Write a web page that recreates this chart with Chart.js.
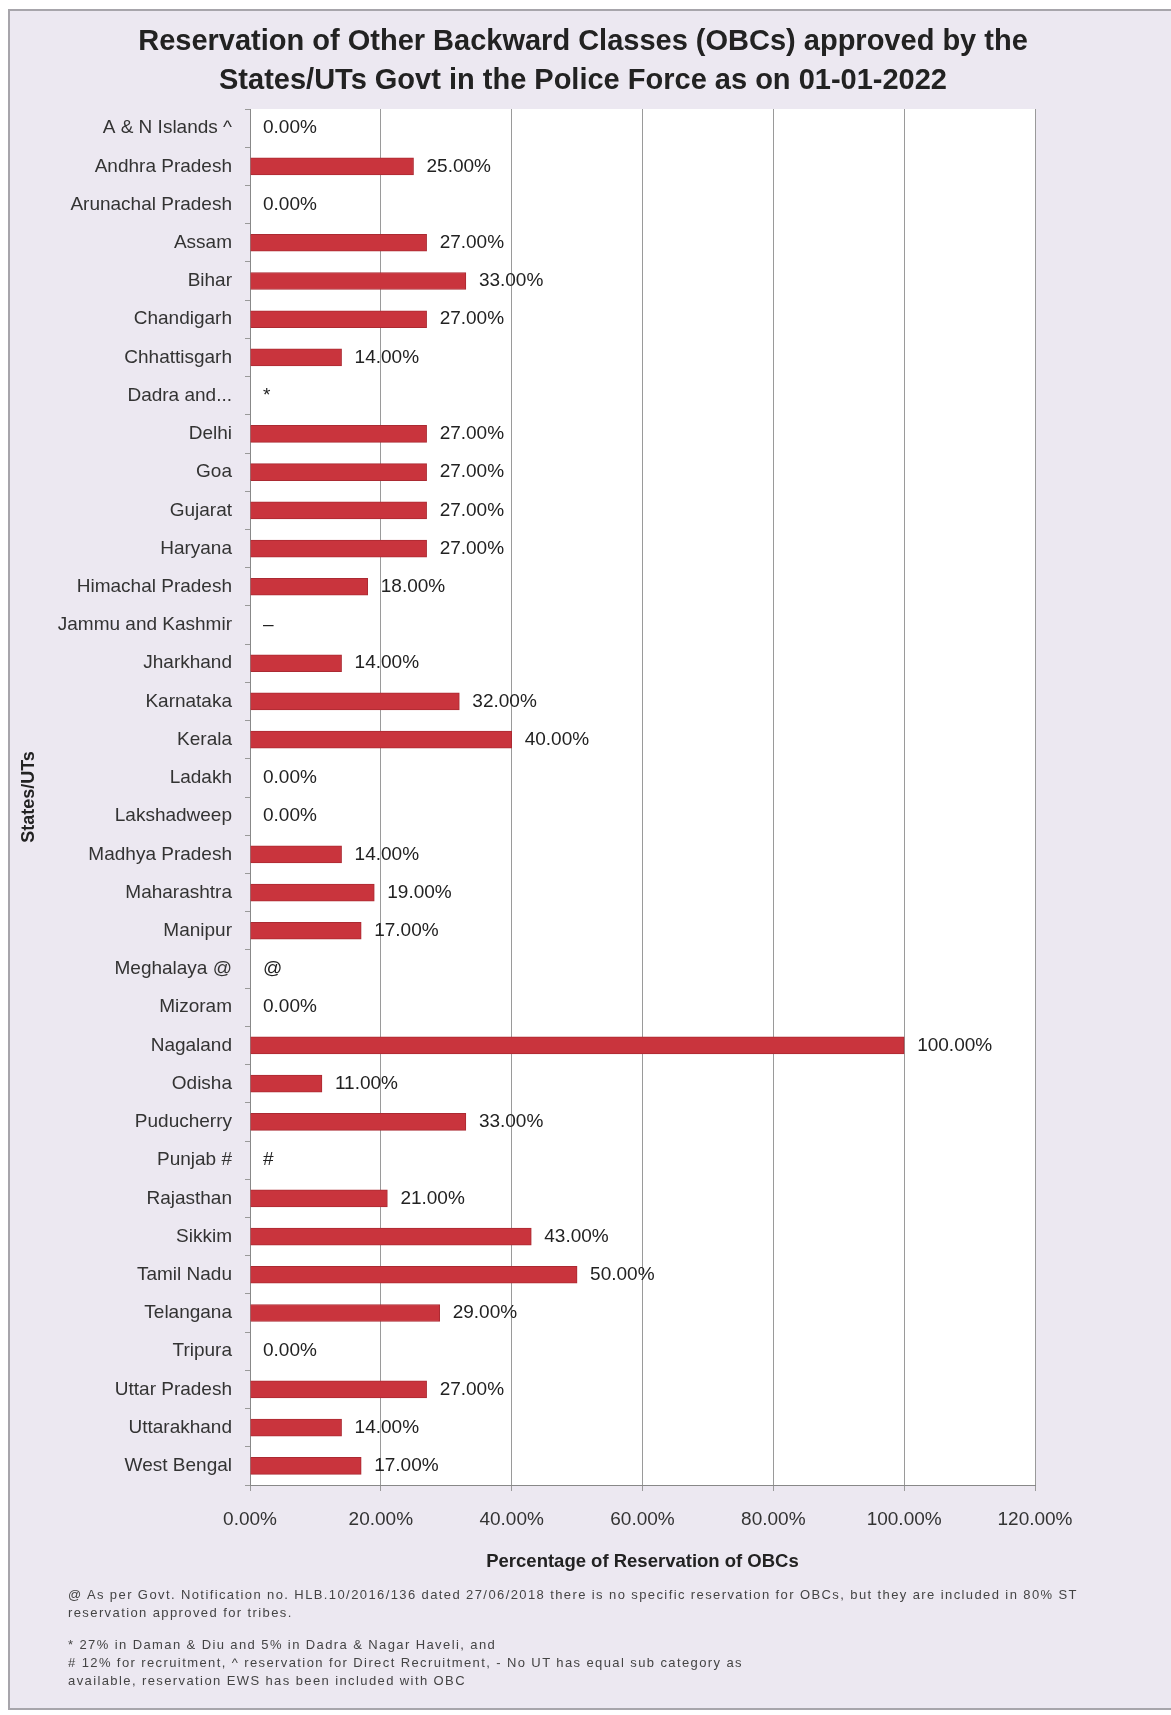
<!DOCTYPE html>
<html>
<head>
<meta charset="utf-8">
<script src="https://cdn.jsdelivr.net/npm/chart.js@4.4.1/dist/chart.umd.min.js"></script>
<style>
  body { margin: 0; background: #fff; overflow: hidden; }
  #frame {
    position: absolute; left: 8px; top: 9px; width: 1161px; height: 1697px;
    background: #ece8f1;
    border-top: 2px solid #a7a5ab; border-left: 2px solid #a7a5ab; border-bottom: 2px solid #a7a5ab;
  }
  #myChart { position: absolute; left: 0; top: 0; }
  #notes {
    position: absolute; left: 68px; top: 1586px; width: 1090px;
    font: 13px "Liberation Sans", Arial, sans-serif; color: #444; line-height: 18px;
    letter-spacing: 1.4px;
  }
  #notes p { margin: 0 0 14px 0; white-space: nowrap; }
</style>
</head>
<body>
<div id="frame"></div>
<canvas id="myChart" width="1171" height="1715"></canvas>
<div id="notes">
  <p>@ As per Govt. Notification no. HLB.10/2016/136 dated 27/06/2018 there is no specific reservation for OBCs, but they are included in 80% ST<br>
  reservation approved for tribes.</p>
  <p>* 27% in Daman &amp; Diu and 5% in Dadra &amp; Nagar Haveli, and<br>
  # 12% for recruitment, ^ reservation for Direct Recruitment, - No UT has equal sub category as<br>
  available, reservation EWS has been included with OBC</p>
</div>
<script>
const states = ['A & N Islands ^', 'Andhra Pradesh', 'Arunachal Pradesh', 'Assam', 'Bihar', 'Chandigarh',
  'Chhattisgarh', 'Dadra and...', 'Delhi', 'Goa', 'Gujarat', 'Haryana', 'Himachal Pradesh',
  'Jammu and Kashmir', 'Jharkhand', 'Karnataka', 'Kerala', 'Ladakh', 'Lakshadweep', 'Madhya Pradesh',
  'Maharashtra', 'Manipur', 'Meghalaya @', 'Mizoram', 'Nagaland', 'Odisha', 'Puducherry', 'Punjab #',
  'Rajasthan', 'Sikkim', 'Tamil Nadu', 'Telangana', 'Tripura', 'Uttar Pradesh', 'Uttarakhand', 'West Bengal'];

const reservation = [0, 25, 0, 27, 33, 27,
  14, null, 27, 27, 27, 27, 18,
  null, 14, 32, 40, 0, 0, 14,
  19, 17, null, 0, 100, 11, 33, null,
  21, 43, 50, 29, 0, 27, 14, 17];

// marks shown instead of a value where no figure is given
const marks = ['', '', '', '', '', '',
  '', '*', '', '', '', '', '',
  '–', '', '', '', '', '', '',
  '', '', '@', '', '', '', '', '#',
  '', '', '', '', '', '', '', ''];

const xTicks = [0, 20, 40, 60, 80, 100, 120];

const titleLines = ['Reservation of Other Backward Classes (OBCs) approved by the',
  'States/UTs Govt in the Police Force as on 01-01-2022'];

const FONT = '"Liberation Sans", Arial, sans-serif';

const bgPlugin = {
  id: 'bg',
  beforeDraw(chart) {
    const {ctx, chartArea: a} = chart;
    ctx.save();
    ctx.fillStyle = '#ffffff';
    ctx.fillRect(a.left, a.top, a.right - a.left, a.bottom - a.top);
    ctx.restore();
  },
  afterDraw(chart) {
    const ctx = chart.ctx;
    ctx.save();
    ctx.font = 'bold 29px ' + FONT;
    ctx.fillStyle = '#222';
    ctx.textAlign = 'center';
    ctx.textBaseline = 'middle';
    ctx.fillText(titleLines[0], 583, 42);
    ctx.fillText(titleLines[1], 583, 81);
    ctx.restore();
  }
};

const valuePlugin = {
  id: 'values',
  afterDatasetsDraw(chart) {
    const ctx = chart.ctx;
    const xs = chart.scales.x, ys = chart.scales.y;
    ctx.save();
    ctx.font = '19px ' + FONT;
    ctx.fillStyle = '#222';
    ctx.textBaseline = 'middle';
    reservation.forEach((v, i) => {
      const txt = v === null ? marks[i] : v.toFixed(2) + '%';
      const x = xs.getPixelForValue(v === null ? 0 : v) + 13;
      ctx.fillText(txt, x, ys.getPixelForValue(i));
    });
    ctx.restore();
  }
};

const ctx = document.getElementById('myChart');

new Chart(ctx, {
  type: 'bar',
  data: {
    labels: states,
    datasets: [{
      label: 'Reservation',
      data: reservation,
      backgroundColor: '#c9343d',
      borderColor: '#ab2a32',
      borderWidth: 1,
      barThickness: 17
    }]
  },
  options: {
    indexAxis: 'y',
    responsive: false,
    animation: false,
    devicePixelRatio: 1,
    layout: {
      padding: { top: 109, right: 136, bottom: 142, left: 0 }
    },
    plugins: {
      legend: { display: false },
      tooltip: { enabled: false }
    },
    scales: {
      x: {
        min: 0,
        max: 120,
        afterBuildTicks: (s) => { s.ticks = xTicks.map(v => ({ value: v })); },
        afterFit: (s) => { s.height = 88; },
        ticks: {
          callback: (v) => Number(v).toFixed(2) + '%',
          font: { size: 19, family: FONT },
          color: '#333',
          padding: 17
        },
        grid: { color: '#9a9a9a', tickLength: 6 },
        border: { color: '#888' },
        title: {
          display: true,
          text: 'Percentage of Reservation of OBCs',
          font: { size: 18.5, weight: 'bold', family: FONT },
          color: '#222',
          padding: { top: 4, bottom: 0 }
        }
      },
      y: {
        afterFit: (s) => { s.width = 250; },
        ticks: {
          font: { size: 19, family: FONT },
          color: '#333',
          padding: 13,
          autoSkip: false
        },
        grid: { drawOnChartArea: false, drawTicks: true, tickLength: 5, color: '#999' },
        border: { color: '#888' },
        title: {
          display: true,
          text: 'States/UTs',
          font: { size: 18, weight: 'bold', family: FONT },
          color: '#222',
          padding: { top: 18, bottom: 0 }
        }
      }
    }
  },
  plugins: [bgPlugin, valuePlugin]
});
</script>
</body>
</html>
